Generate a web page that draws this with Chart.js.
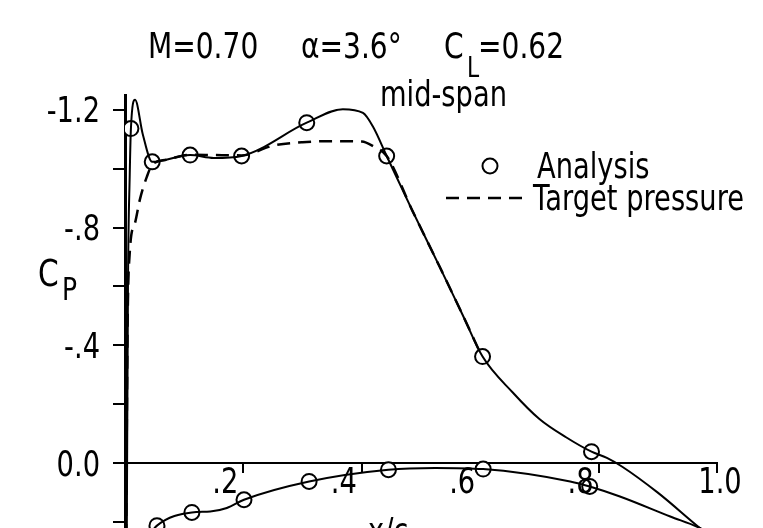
<!DOCTYPE html>
<html>
<head>
<meta charset="utf-8">
<script src="https://cdn.jsdelivr.net/npm/chart.js@4.4.0/dist/chart.umd.min.js"></script>
<style>
html, body { margin: 0; padding: 0; background: #fff; }
</style>
</head>
<body>
<canvas id="cpChart" width="763" height="528"></canvas>
<script>
// upper surface, analysis curve (x/c, Cp)
var upperX  = [0.003, 0.005, 0.008, 0.010, 0.017, 0.030, 0.046, 0.110, 0.150, 0.197, 0.307, 0.368, 0.402, 0.419, 0.442, 0.486, 0.532, 0.570, 0.604, 0.655, 0.700, 0.745, 0.788, 0.814, 0.840, 0.900, 0.971, 0.990];
var upperCp = [0.25, -0.60, -0.98, -1.136, -1.234, -1.117, -1.023, -1.046, -1.036, -1.043, -1.156, -1.202, -1.189, -1.142, -1.043, -0.855, -0.665, -0.505, -0.362, -0.240, -0.150, -0.088, -0.039, -0.018, 0.012, 0.100, 0.22, 0.25];

// lower surface, analysis curve
var lowerX  = [0.035, 0.054, 0.113, 0.144, 0.172, 0.201, 0.311, 0.445, 0.524, 0.605, 0.752, 0.785, 0.836, 0.921, 0.971, 0.985];
var lowerCp = [0.26, 0.212, 0.167, 0.164, 0.152, 0.124, 0.062, 0.022, 0.016, 0.020, 0.062, 0.079, 0.113, 0.181, 0.22, 0.235];

// analysis points (circles)
var analysisUpperX  = [0.010, 0.046, 0.110, 0.197, 0.307, 0.442, 0.604, 0.788];
var analysisUpperCp = [-1.136, -1.023, -1.046, -1.043, -1.156, -1.043, -0.362, -0.039];
var analysisLowerX  = [0.054, 0.113, 0.201, 0.311, 0.445, 0.605, 0.785];
var analysisLowerCp = [0.212, 0.167, 0.124, 0.062, 0.022, 0.020, 0.079];

// target pressure (dashed)
var targetX  = [0.002, 0.004, 0.008, 0.017, 0.025, 0.037, 0.046, 0.070, 0.110, 0.150, 0.197, 0.250, 0.300, 0.350, 0.400, 0.420, 0.442, 0.486, 0.532, 0.570, 0.600];
var targetCp = [0.25, -0.40, -0.714, -0.816, -0.894, -0.973, -1.013, -1.030, -1.047, -1.046, -1.045, -1.078, -1.090, -1.093, -1.092, -1.075, -1.043, -0.855, -0.665, -0.505, -0.375];

// axes
var yTicks = [-1.2, -1.0, -0.8, -0.6, -0.4, -0.2, 0.0, 0.2];
var yTickLabels = ['-1.2', '', '-.8', '', '-.4', '', '0.0', ''];
var xTicks = [0.2, 0.4, 0.6, 0.8, 1.0];
var xTickLabels = ['.2', '.4', '.6', '.8', '1.0'];

var FONT = "'DejaVu Sans', sans-serif";
var SQUEEZE = 0.78; // lettrage etroit

function pts(xs, ys) {
    return xs.map(function (x, i) { return { x: x, y: ys[i] }; });
}

// texte etroit : police normale comprimee horizontalement
function label(ctx, str, x, y, size, align) {
    ctx.save();
    ctx.font = size + 'px ' + FONT;
    ctx.textAlign = align || 'left';
    ctx.textBaseline = 'alphabetic';
    ctx.translate(x, y);
    ctx.scale(SQUEEZE, 1);
    ctx.fillText(str, 0, 0);
    ctx.restore();
}

var annotations = {
    id: 'annotations',
    afterDraw: function (chart) {
        var ctx = chart.ctx;
        var xs = chart.scales.x;
        var ys = chart.scales.y;
        ctx.save();
        ctx.fillStyle = '#000';
        ctx.strokeStyle = '#000';

        // titre
        label(ctx, 'M=0.70', 148, 58, 36);
        label(ctx, '\u03b1=3.6\u00b0', 301, 58, 36);
        label(ctx, 'C', 444, 58, 36);
        label(ctx, 'L', 467, 77, 28);
        label(ctx, '=0.62', 478, 58, 36);

        label(ctx, 'mid-span', 380, 106, 35);

        // legende
        ctx.lineWidth = 2;
        ctx.beginPath();
        ctx.arc(490, 166, 7.5, 0, Math.PI * 2);
        ctx.fillStyle = '#fff';
        ctx.fill();
        ctx.stroke();
        ctx.fillStyle = '#000';
        label(ctx, 'Analysis', 537, 178, 35);
        ctx.setLineDash([13, 8]);
        ctx.lineWidth = 2.5;
        ctx.beginPath();
        ctx.moveTo(446, 198);
        ctx.lineTo(530, 198);
        ctx.stroke();
        ctx.setLineDash([]);
        label(ctx, 'Target pressure', 533, 210, 35);

        // C_P
        label(ctx, 'C', 38, 286, 38);
        label(ctx, 'P', 62, 300, 32);

        // y tick labels
        yTicks.forEach(function (v, i) {
            if (yTickLabels[i]) {
                label(ctx, yTickLabels[i], 100, ys.getPixelForValue(v) + 12.5, 35, 'right');
            }
        });

        // x tick labels
        xTicks.forEach(function (v, i) {
            var px = xs.getPixelForValue(v);
            if (i === xTicks.length - 1) {
                label(ctx, xTickLabels[i], px + 3, 493, 35, 'center');
            } else {
                label(ctx, xTickLabels[i], px - 5, 493, 35, 'right');
            }
        });

        label(ctx, 'x/c', 368, 543, 35);
        ctx.restore();
    }
};

var ctx = document.getElementById('cpChart').getContext('2d');
window.cpChart = new Chart(ctx, {
    type: 'scatter',
    data: {
        datasets: [{
            label: 'Analysis upper',
            data: pts(upperX, upperCp),
            showLine: true,
            borderColor: '#000',
            borderWidth: 2,
            pointRadius: 0,
            cubicInterpolationMode: 'monotone'
        }, {
            label: 'Analysis lower',
            data: pts(lowerX, lowerCp),
            showLine: true,
            borderColor: '#000',
            borderWidth: 2,
            pointRadius: 0,
            cubicInterpolationMode: 'monotone'
        }, {
            label: 'Target pressure',
            data: pts(targetX, targetCp),
            showLine: true,
            borderColor: '#000',
            borderWidth: 2.5,
            borderDash: [13, 8],
            pointRadius: 0,
            cubicInterpolationMode: 'monotone'
        }, {
            label: 'Analysis',
            data: pts(analysisUpperX, analysisUpperCp).concat(pts(analysisLowerX, analysisLowerCp)),
            showLine: false,
            pointRadius: 7.5,
            pointBorderWidth: 2,
            pointBorderColor: '#000',
            pointBackgroundColor: '#fff'
        }]
    },
    options: {
        responsive: false,
        animation: false,
        layout: {
            autoPadding: false,
            padding: { top: 95, right: 46, bottom: 0, left: 0 }
        },
        plugins: {
            legend: { display: false },
            tooltip: { enabled: false }
        },
        scales: {
            x: {
                type: 'linear',
                min: 0,
                max: 1.0,
                position: { y: 0 },
                afterBuildTicks: function (scale) {
                    scale.ticks = xTicks.map(function (v) { return { value: v }; });
                },
                ticks: { display: false },
                grid: { drawOnChartArea: false, drawTicks: true, tickLength: 9, color: '#000', lineWidth: 2 },
                border: { display: true, color: '#000', width: 2 }
            },
            y: {
                type: 'linear',
                reverse: true,
                min: -1.25,
                max: 0.22,
                position: 'left',
                afterBuildTicks: function (scale) {
                    scale.ticks = yTicks.map(function (v) { return { value: v }; });
                },
                afterFit: function (scale) {
                    scale.width = 125;
                    scale.paddingTop = 0;
                    scale.paddingBottom = 0;
                },
                ticks: { display: false },
                grid: { drawOnChartArea: false, drawTicks: true, tickLength: 12, color: '#000', lineWidth: 2 },
                border: { display: true, color: '#000', width: 3 }
            }
        }
    },
    plugins: [annotations]
});
</script>
</body>
</html>
